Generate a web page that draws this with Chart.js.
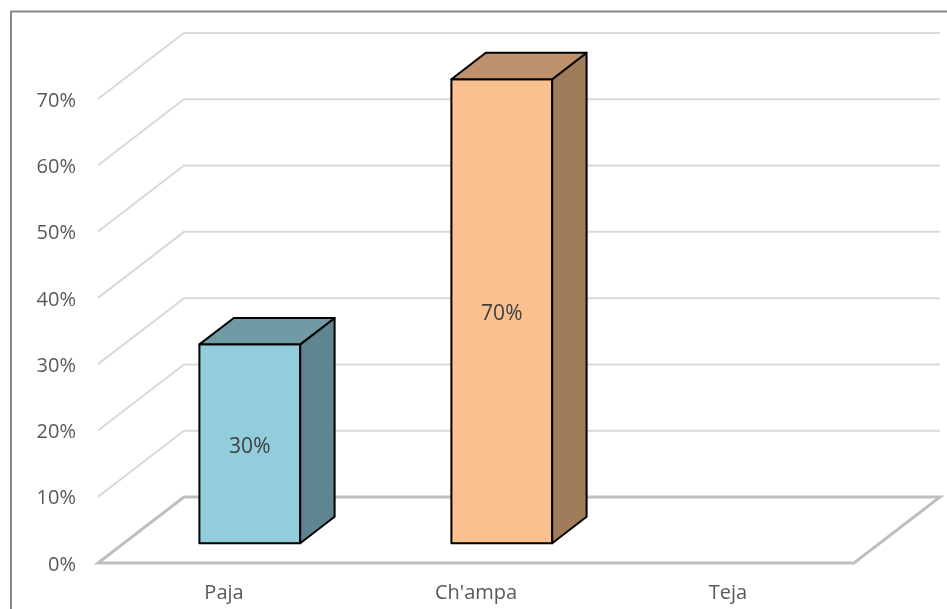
<!DOCTYPE html>
<html>
<head>
<meta charset="utf-8">
<script src="https://cdn.jsdelivr.net/npm/chart.js@4/dist/chart.umd.min.js"></script>
<style>
  html, body { margin: 0; padding: 0; background: #ffffff; overflow: hidden; }
  canvas { display: block; }
</style>
</head>
<body>
<canvas id="chart" width="947" height="609"></canvas>
<script>
// Roofing material shares (percent)
const categories = ['Paja', "Ch'ampa", 'Teja'];
const shares = [30, 70, 0];
const axisMax = 70;
const axisStep = 10;

// Face colours per category: front, right side, top
const frontColors = ['#92CDDC', '#FAC090', '#B3A2C7'];
const sideColors  = ['#5F8690', '#A07C5A', '#7D6C8C'];
const topColors   = ['#6F9AA6', '#BF906C', '#9080A0'];

// Perspective offset from the front plane to the back wall
const DEPTH = { x: 86, y: -66 };
// Where each box sits within that depth (fractions)
const BOX_FRONT = 0.3;
const BOX_BACK = 0.7;

const FONT = '"Open Sans", "DejaVu Sans", sans-serif';

const framePlugin = {
  id: 'frame',
  beforeDraw(chart) {
    const ctx = chart.ctx;
    ctx.save();
    ctx.fillStyle = '#ffffff';
    ctx.fillRect(0, 0, chart.width, chart.height);
    ctx.strokeStyle = '#888888';
    ctx.lineWidth = 2;
    ctx.strokeRect(11, 11.5, 1000, 1000);
    ctx.restore();
  }
};

// Back wall, side wall and floor of the 3D plot box
const wallsPlugin = {
  id: 'walls',
  beforeDatasetsDraw(chart) {
    const { ctx, chartArea: a, scales } = chart;
    const y = scales.y;
    ctx.save();
    ctx.lineCap = 'butt';
    ctx.lineJoin = 'miter';
    ctx.strokeStyle = '#D9D9D9';
    ctx.lineWidth = 2;
    y.ticks.forEach(t => {
      if (t.value === 0) return;
      const py = y.getPixelForValue(t.value);
      ctx.beginPath();
      ctx.moveTo(a.left, py);
      ctx.lineTo(a.left + DEPTH.x, py + DEPTH.y);
      ctx.lineTo(a.right + DEPTH.x, py + DEPTH.y);
      ctx.stroke();
    });
    const p0 = y.getPixelForValue(0);
    ctx.strokeStyle = '#BFBFBF';
    ctx.lineWidth = 3;
    ctx.beginPath();
    ctx.moveTo(a.left, p0);
    ctx.lineTo(a.left + DEPTH.x, p0 + DEPTH.y);
    ctx.lineTo(a.right + DEPTH.x, p0 + DEPTH.y);
    ctx.lineTo(a.right, p0);
    ctx.closePath();
    ctx.stroke();
    ctx.restore();
  }
};

// Extruded boxes built from the bar elements' geometry, plus value labels
const boxesPlugin = {
  id: 'boxes',
  afterDatasetsDraw(chart) {
    const ctx = chart.ctx;
    const meta = chart.getDatasetMeta(0);
    const values = chart.data.datasets[0].data;
    const fx = DEPTH.x * BOX_FRONT, fy = DEPTH.y * BOX_FRONT;
    const bx = DEPTH.x * BOX_BACK, by = DEPTH.y * BOX_BACK;
    ctx.save();
    ctx.lineJoin = 'round';
    ctx.strokeStyle = '#000000';
    ctx.lineWidth = 2;
    meta.data.forEach((bar, i) => {
      if (!values[i]) return;
      const p = bar.getProps(['x', 'y', 'base', 'width'], true);
      const l = p.x - p.width / 2, r = p.x + p.width / 2;
      const top = p.y, base = p.base;

      // front
      ctx.beginPath();
      ctx.rect(l + fx, top + fy, r - l, base - top);
      ctx.fillStyle = frontColors[i];
      ctx.fill();
      ctx.stroke();

      // right side
      ctx.beginPath();
      ctx.moveTo(r + fx, top + fy);
      ctx.lineTo(r + bx, top + by);
      ctx.lineTo(r + bx, base + by);
      ctx.lineTo(r + fx, base + fy);
      ctx.closePath();
      ctx.fillStyle = sideColors[i];
      ctx.fill();
      ctx.stroke();

      // top
      ctx.beginPath();
      ctx.moveTo(l + fx, top + fy);
      ctx.lineTo(l + bx, top + by);
      ctx.lineTo(r + bx, top + by);
      ctx.lineTo(r + fx, top + fy);
      ctx.closePath();
      ctx.fillStyle = topColors[i];
      ctx.fill();
      ctx.stroke();

      // value label in the middle of the front face
      ctx.fillStyle = '#404040';
      ctx.font = '21px ' + FONT;
      ctx.textAlign = 'center';
      ctx.textBaseline = 'middle';
      ctx.fillText(values[i] + '%', p.x + fx, (top + base) / 2 + fy + 3);
    });
    ctx.restore();
  }
};

new Chart(document.getElementById('chart'), {
  type: 'bar',
  data: {
    labels: categories,
    datasets: [{
      data: shares,
      backgroundColor: 'rgba(0,0,0,0)',
      borderWidth: 0,
      categoryPercentage: 1,
      barPercentage: 0.4
    }]
  },
  options: {
    responsive: false,
    animation: false,
    events: [],
    layout: { padding: { left: 0, top: 99, right: 93, bottom: 0 } },
    plugins: {
      legend: { display: false },
      tooltip: { enabled: false },
      title: { display: false }
    },
    scales: {
      x: {
        grid: { display: false, drawTicks: false },
        border: { display: false },
        ticks: {
          color: '#595959',
          font: { family: FONT, size: 20 },
          padding: 18,
          maxRotation: 0
        },
        afterFit(s) { s.height = 46; }
      },
      y: {
        min: 0,
        max: axisMax,
        grid: { display: false, drawTicks: false },
        border: { display: false },
        ticks: {
          stepSize: axisStep,
          color: '#595959',
          font: { family: FONT, size: 20 },
          padding: 22,
          labelOffset: 2,
          callback: v => v + '%'
        },
        afterFit(s) { s.width = 98; }
      }
    }
  },
  plugins: [framePlugin, wallsPlugin, boxesPlugin]
});
</script>
</body>
</html>
